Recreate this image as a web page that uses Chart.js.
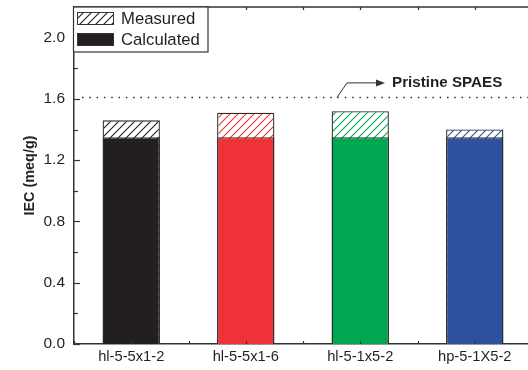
<!DOCTYPE html>
<html>
<head>
<meta charset="utf-8">
<script src="https://cdn.jsdelivr.net/npm/chart.js@4/dist/chart.umd.min.js"></script>
<style>
  html, body { margin: 0; padding: 0; background: #fff; overflow: hidden; }
  canvas { display: block; }
</style>
</head>
<body>
<canvas id="c" width="540" height="370"></canvas>
<script>
// Membrane samples and their ion exchange capacity (meq/g)
const samples = ['hl-5-5x1-2', 'hl-5-5x1-6', 'hl-5-1x5-2', 'hp-5-1X5-2'];
const measured = [1.46, 1.51, 1.52, 1.40];
const calculated = [1.35, 1.35, 1.35, 1.35];
const pristineSPAES = 1.61;
const pristineLabel = 'Pristine SPAES';
const yLabelStep = 0.4;
const yMinorStep = 0.2;
const yMax = 2.2;

const barColors = ['#231f20', '#ef3237', '#00a651', '#2e509f'];
const ink = '#231f20';
const FONT = "'Liberation Sans', Arial, Helvetica, sans-serif";

Chart.defaults.font.family = FONT;
Chart.defaults.color = ink;

// diagonal "/" hatch on white, in the given colour
function hatch(color, step = 8) {
  const c = document.createElement('canvas');
  c.width = step; c.height = step;
  const g = c.getContext('2d');
  g.fillStyle = '#fff';
  g.fillRect(0, 0, step, step);
  g.strokeStyle = color;
  g.lineWidth = 1.1;
  g.beginPath();
  g.moveTo(-1, step + 1); g.lineTo(step + 1, -1);
  g.moveTo(-1, 1); g.lineTo(1, -1);
  g.moveTo(step - 1, step + 1); g.lineTo(step + 1, step - 1);
  g.stroke();
  return g.createPattern(c, 'repeat');
}

const hatchFills = barColors.map(c => hatch(c));

// frame, inward ticks, reference line, annotation and legend
const decorations = {
  id: 'decorations',
  afterDatasetsDraw(chart) {
    const { ctx, chartArea: a, scales: { x, y } } = chart;
    ctx.save();
    ctx.strokeStyle = '#333';

    // top frame line
    ctx.lineWidth = 1.5;
    ctx.beginPath();
    ctx.moveTo(a.left, a.top);
    ctx.lineTo(a.right, a.top);
    ctx.stroke();

    // y ticks pointing inward
    ctx.lineWidth = 1.2;
    const n = Math.round(yMax / yMinorStep);
    for (let i = 0; i <= n; i++) {
      const v = i * yMinorStep;
      const py = Math.round(y.getPixelForValue(v)) + 0.5;
      const major = Math.abs(v / yLabelStep - Math.round(v / yLabelStep)) < 1e-6;
      const len = major ? 6 : 4;
      ctx.beginPath();
      ctx.moveTo(a.left, py);
      ctx.lineTo(a.left + len, py);
      ctx.stroke();
    }

    // x ticks (bottom and top), at category centres and boundaries
    for (let k = 0; k <= samples.length * 2; k++) {
      const px = Math.round(x.getPixelForValue(k / 2 - 0.5)) + 0.5;
      ctx.beginPath();
      ctx.moveTo(px, a.bottom);
      ctx.lineTo(px, a.bottom - 3);
      ctx.moveTo(px, a.top);
      ctx.lineTo(px, a.top + 3);
      ctx.stroke();
    }

    // pristine SPAES reference level (dotted)
    const yp = y.getPixelForValue(pristineSPAES);
    ctx.lineWidth = 1.5;
    ctx.setLineDash([1.5, 5.8]);
    ctx.beginPath();
    ctx.moveTo(a.left + 8, yp);
    ctx.lineTo(a.right, yp);
    ctx.stroke();
    ctx.setLineDash([]);

    // pointer arrow and its label
    ctx.lineWidth = 1;
    ctx.strokeStyle = '#333';
    ctx.beginPath();
    ctx.moveTo(337, yp);
    ctx.lineTo(347, yp - 14.5);
    ctx.lineTo(378, yp - 14.5);
    ctx.stroke();
    ctx.fillStyle = '#333';
    ctx.beginPath();
    ctx.moveTo(385, yp - 14.5);
    ctx.lineTo(376, yp - 18);
    ctx.lineTo(376, yp - 11);
    ctx.closePath();
    ctx.fill();

    ctx.fillStyle = ink;
    ctx.font = `bold 15.2px ${FONT}`;
    ctx.textBaseline = 'middle';
    ctx.textAlign = 'left';
    ctx.fillText(pristineLabel, 392, yp - 15);

    // legend box in the top-left corner
    const lx = 73.5, ly = a.top, lw = 134.5, lh = 45;
    ctx.fillStyle = '#fff';
    ctx.fillRect(lx, ly, lw, lh);
    ctx.strokeStyle = '#333';
    ctx.lineWidth = 1.2;
    ctx.strokeRect(lx, ly, lw, lh);

    const ds = chart.data.datasets;
    const rows = [
      { label: ds[1].label, fill: hatchFills[0], y: ly + 5.5 },
      { label: ds[0].label, fill: ink, y: ly + 26.5 }
    ];
    ctx.font = `16.7px ${FONT}`;
    rows.forEach(r => {
      ctx.fillStyle = r.fill;
      ctx.fillRect(77.5, r.y, 36, 12);
      ctx.strokeStyle = '#333';
      ctx.lineWidth = 1;
      ctx.strokeRect(77.5, r.y, 36, 12);
      ctx.fillStyle = ink;
      ctx.fillText(r.label, 121, r.y + 6.5);
    });

    ctx.restore();
  }
};

new Chart(document.getElementById('c'), {
  type: 'bar',
  data: {
    labels: samples,
    datasets: [
      {
        label: 'Calculated',
        data: calculated,
        backgroundColor: (c) => barColors[c.dataIndex],
        borderColor: '#2a2a2a',
        borderWidth: 1.3,
        order: 0
      },
      {
        label: 'Measured',
        data: measured,
        backgroundColor: (c) => hatchFills[c.dataIndex],
        borderColor: '#2a2a2a',
        borderWidth: 1.3,
        order: 1
      }
    ]
  },
  options: {
    responsive: false,
    animation: false,
    devicePixelRatio: 1,
    layout: { padding: { top: 7, right: 8, left: 0, bottom: 0 } },
    datasets: {
      bar: { grouped: false, barPercentage: 0.5, categoryPercentage: 1 }
    },
    plugins: {
      legend: { display: false },
      tooltip: { enabled: false }
    },
    scales: {
      x: {
        afterFit(s) { s.height = 26; s.paddingLeft = 0; s.paddingRight = 0; },
        grid: { display: false, drawTicks: false },
        border: { display: true, color: '#333', width: 1.5 },
        ticks: {
          font: { size: 14.7 },
          color: ink,
          padding: 4,
          maxRotation: 0,
          autoSkip: false
        }
      },
      y: {
        min: 0,
        max: yMax,
        afterFit(s) { s.width = 74; s.paddingTop = 0; s.paddingBottom = 0; },
        grid: { display: false, drawTicks: false },
        border: { display: true, color: '#333', width: 1.5 },
        ticks: {
          stepSize: yMinorStep,
          autoSkip: false,
          font: { size: 15.5 },
          color: ink,
          padding: 9,
          callback(v) {
            const r = v / yLabelStep;
            return Math.abs(r - Math.round(r)) < 1e-6 ? v.toFixed(1) : '';
          }
        },
        title: {
          display: true,
          text: 'IEC (meq/g)',
          color: ink,
          font: { size: 14.4, weight: 'bold' },
          padding: { top: 21, bottom: 0 }
        }
      }
    }
  },
  plugins: [decorations]
});
</script>
</body>
</html>
